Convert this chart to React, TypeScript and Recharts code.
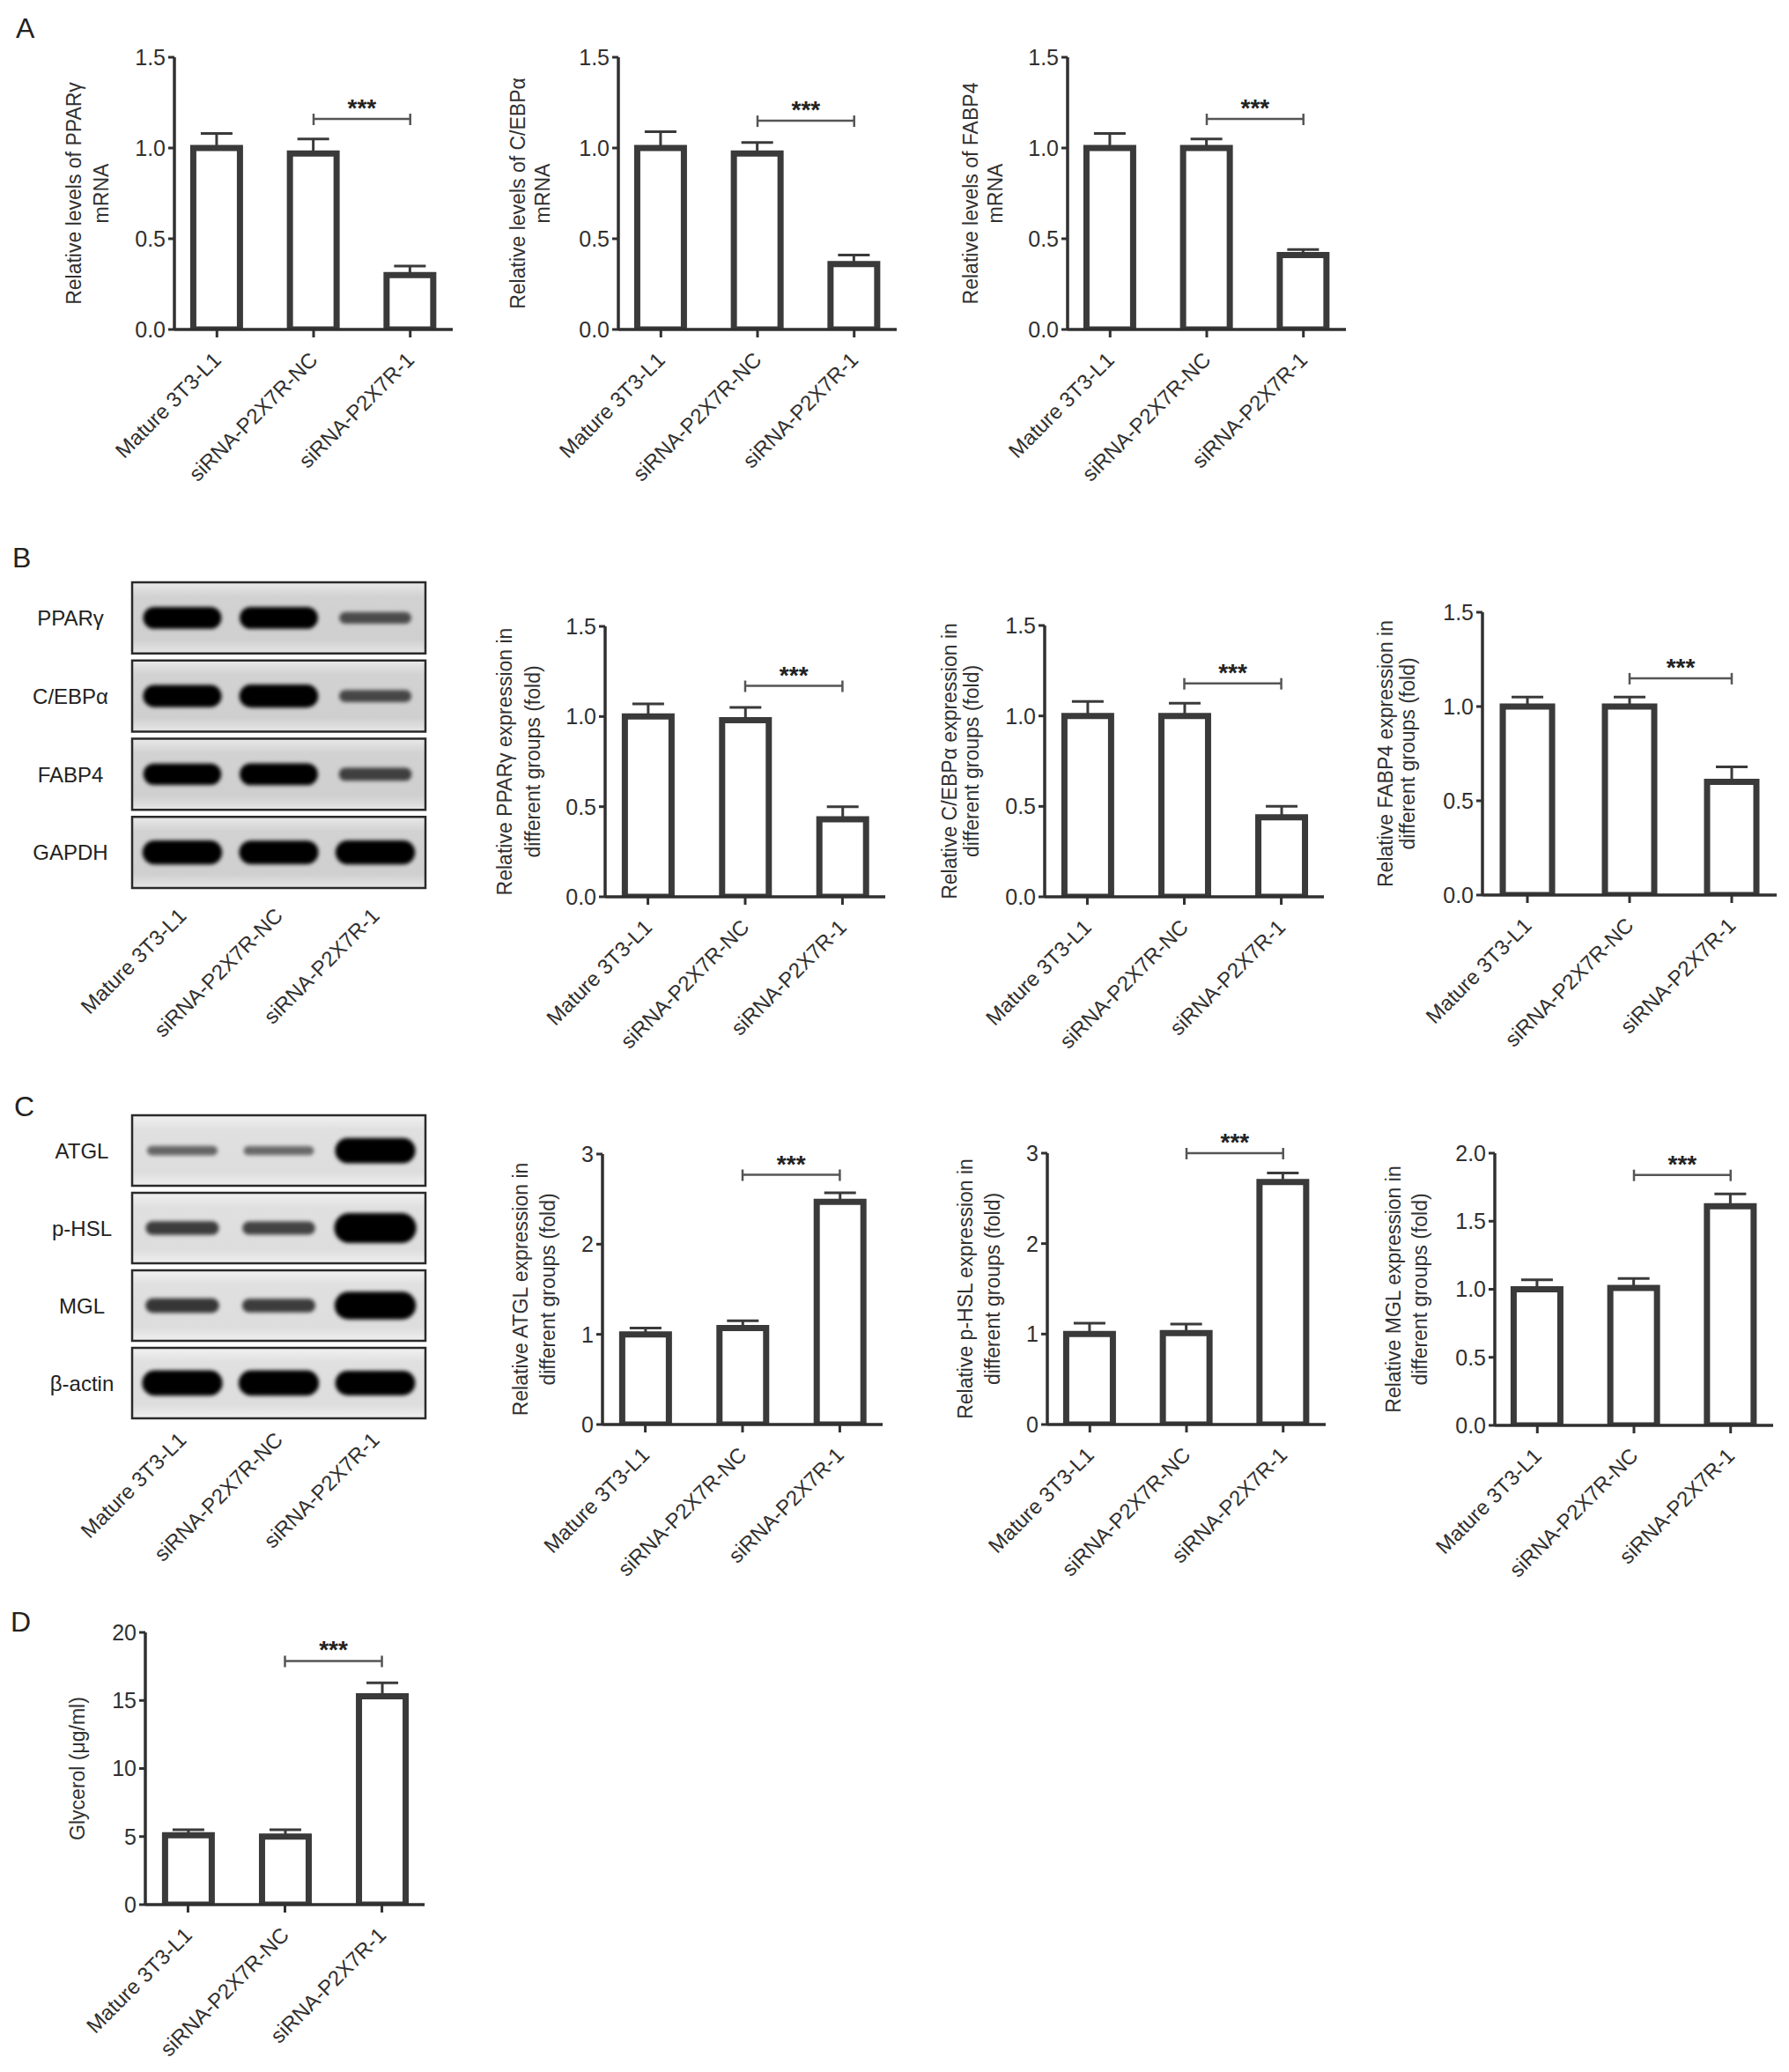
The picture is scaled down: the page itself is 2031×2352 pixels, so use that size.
import React from 'react';
import {
  BarChart,
  Bar,
  XAxis,
  YAxis,
  ErrorBar,
  ReferenceLine,
  ReferenceArea,
  ScatterChart,
  Scatter,
} from 'recharts';

const FONT = '"Liberation Sans", Arial, Helvetica, sans-serif';
const INK = '#303030';
const BAR_INK = '#3a3a3a';

// ---------- data ----------
const groups = ['Mature 3T3-L1', 'siRNA-P2X7R-NC', 'siRNA-P2X7R-1'];
const groupIdx = [0, 1, 2];

// Panel A (mRNA)
const pparMrnaMean = [1.0, 0.97, 0.3];
const pparMrnaSem = [0.08, 0.08, 0.05];
const cebpMrnaMean = [1.0, 0.97, 0.36];
const cebpMrnaSem = [0.09, 0.06, 0.05];
const fabpMrnaMean = [1.0, 1.0, 0.41];
const fabpMrnaSem = [0.08, 0.05, 0.03];

// Panel B (protein)
const pparProtMean = [1.0, 0.98, 0.43];
const pparProtSem = [0.07, 0.07, 0.07];
const cebpProtMean = [1.0, 1.0, 0.44];
const cebpProtSem = [0.08, 0.07, 0.06];
const fabpProtMean = [1.0, 1.0, 0.6];
const fabpProtSem = [0.05, 0.05, 0.08];

// Panel C (lipolysis proteins)
const atglMean = [1.0, 1.07, 2.47];
const atglSem = [0.07, 0.08, 0.1];
const phslMean = [1.0, 1.01, 2.68];
const phslSem = [0.12, 0.1, 0.1];
const mglMean = [1.0, 1.01, 1.61];
const mglSem = [0.07, 0.07, 0.09];

// Panel D (glycerol)
const glycerolMean = [5.1, 5.0, 15.3];
const glycerolSem = [0.4, 0.5, 1.0];

// significance bracket heights (data units) – siRNA-NC vs siRNA-1
const bracketLevels = [1.16, 1.15, 1.16, 1.17, 1.18, 1.15, 2.77, 3.0, 1.84, 17.9];

// tick sets
const ticks15 = [0, 0.5, 1, 1.5];
const ticks3 = [0, 1, 2, 3];
const ticks2 = [0, 0.5, 1, 1.5, 2];
const ticks20 = [0, 5, 10, 15, 20];

// western blots (relative band strength per lane)
const blotBProteins = ['PPARγ', 'C/EBPα', 'FABP4', 'GAPDH'];
const blotBBands = [
  [0.8, 0.8, 0.36],
  [0.82, 0.85, 0.38],
  [0.78, 0.8, 0.42],
  [0.9, 0.88, 0.9],
];
const blotCProteins = ['ATGL', 'p-HSL', 'MGL', 'β-actin'];
const blotCBands = [
  [0.26, 0.24, 0.95],
  [0.45, 0.42, 1.15],
  [0.48, 0.45, 1.05],
  [0.95, 0.95, 0.92],
];

// ---------- layout ----------
const ML = 150;
const MT = 70;
const MR = 24;
const XH = 230;

const CatTick = (props: any) => {
  const { x, y, payload } = props;
  return (
    <text
      x={x}
      y={y}
      dy="0.36em"
      transform={`rotate(-45 ${x} ${y})`}
      textAnchor="end"
      fontSize={24}
      fill={INK}
      fontFamily={FONT}
    >
      {groups[payload.value]}
    </text>
  );
};

const YTitle = (props: any) => {
  const { lines, offsets, axisX, cy } = props;
  return (
    <g>
      {lines.map((t: string, k: number) => {
        const tx = axisX - offsets[k];
        return (
          <text
            key={k}
            x={tx}
            y={cy}
            transform={`rotate(-90 ${tx} ${cy})`}
            textAnchor="middle"
            dominantBaseline="central"
            fontSize={23}
            fill={INK}
            fontFamily={FONT}
          >
            {t}
          </text>
        );
      })}
    </g>
  );
};

const Bracket = (p: any) => {
  const { x1, y1, x2, y2 } = p;
  const c = '#555555';
  return (
    <g>
      <line x1={x1} y1={y1} x2={x2} y2={y2} stroke={c} strokeWidth={2.5} />
      <line x1={x1} y1={y1 - 6} x2={x1} y2={y1 + 7} stroke={c} strokeWidth={2.5} />
      <line x1={x2} y1={y2 - 6} x2={x2} y2={y2 + 7} stroke={c} strokeWidth={2.5} />
      <text
        x={(x1 + x2) / 2}
        y={y1 - 3}
        textAnchor="middle"
        fontSize={28}
        fontWeight="bold"
        fill="#222"
        fontFamily={FONT}
      >
        ***
      </text>
    </g>
  );
};

type BarPanelProps = {
  rect: number[];
  means: number[];
  sems: number[];
  sig: number;
  yMax: number;
  ticks: number[];
  dec: number;
  title: string[];
  titleOff: number[];
};

function BarPanel({ rect, means, sems, sig, yMax, ticks, dec, title, titleOff }: BarPanelProps) {
  const [x0, y0, x1, y1] = rect;
  const pw = x1 - x0;
  const ph = y1 - y0;
  const W = pw + ML + MR;
  const H = ph + MT + XH;
  const data = groupIdx.map((i) => ({ x: i, v: means[i], err: [0, sems[i]] }));
  return (
    <div style={{ position: 'absolute', left: x0 - ML, top: y0 - MT, width: W, height: H }}>
      <BarChart width={W} height={H} data={data} margin={{ top: MT, right: MR, bottom: 0, left: 0 }}>
        <XAxis
          type="number"
          dataKey="x"
          domain={[-0.44, 2.44]}
          ticks={groupIdx}
          allowDataOverflow
          interval={0}
          height={XH}
          tickSize={9}
          tickMargin={21}
          axisLine={{ stroke: INK, strokeWidth: 3.5 }}
          tickLine={{ stroke: INK, strokeWidth: 3 }}
          tick={<CatTick />}
        />
        <YAxis
          type="number"
          domain={[0, yMax]}
          ticks={ticks}
          allowDataOverflow
          interval={0}
          width={ML}
          tickSize={7}
          tickMargin={3}
          tickFormatter={(v: number) => v.toFixed(dec)}
          axisLine={{ stroke: INK, strokeWidth: 3.5 }}
          tickLine={{ stroke: INK, strokeWidth: 3 }}
          tick={{ fontSize: 25, fill: INK, fontFamily: FONT }}
          label={<YTitle lines={title} offsets={titleOff} axisX={ML} cy={MT + ph / 2} />}
        />
        <Bar
          dataKey="v"
          barSize={Math.round(pw * 0.168)}
          fill="#ffffff"
          stroke={BAR_INK}
          strokeWidth={7}
          isAnimationActive={false}
        >
          <ErrorBar dataKey="err" width={18} strokeWidth={3} stroke={BAR_INK} direction="y" isAnimationActive={false} />
        </Bar>
        <ReferenceLine
          segment={[
            { x: 1, y: sig },
            { x: 2, y: sig },
          ]}
          ifOverflow="visible"
          shape={(p: any) => <Bracket {...p} />}
        />
      </BarChart>
    </div>
  );
}

const BandShape = (p: any) => {
  const { cx, cy, payload } = p;
  const level = payload.level;
  const w = 76 + 16 * Math.min(level, 1) + 8 * Math.max(level - 1, 0);
  const h = 4 + 26 * level;
  const op = Math.min(1, 0.3 + 0.95 * level);
  return (
    <rect
      x={cx - w / 2}
      y={cy - h / 2}
      width={w}
      height={h}
      rx={h / 2}
      ry={h / 2}
      fill="#050505"
      fillOpacity={op}
      filter="url(#bandBlur)"
    />
  );
};

const ProteinTick = (p: any) => {
  const { y, payload, names, labelCx } = p;
  return (
    <text x={labelCx} y={y} dy="0.36em" textAnchor="middle" fontSize={24} fill="#222" fontFamily={FONT}>
      {names[payload.value]}
    </text>
  );
};

type BlotProps = {
  rect: number[];
  proteins: string[];
  bands: number[][];
  labelX: number;
  laneOff: number;
  bg: string;
};

function BlotPanel({ rect, proteins, bands, labelX, laneOff, bg }: BlotProps) {
  const [x0, y0, x1, y1] = rect;
  const pw = x1 - x0;
  const ph = y1 - y0;
  const W = pw + ML + MR;
  const H = ph + MT + XH;
  const data = bands.flatMap((row, r) => row.map((level, l) => ({ lane: l, row: r, level })));
  const rows = proteins.map((_, r) => r);
  return (
    <div style={{ position: 'absolute', left: x0 - ML, top: y0 - MT, width: W, height: H }}>
      <ScatterChart width={W} height={H} margin={{ top: MT, right: MR, bottom: 0, left: 0 }}>
        <XAxis
          type="number"
          dataKey="lane"
          domain={[-0.52, 2.52]}
          ticks={groupIdx}
          allowDataOverflow
          interval={0}
          height={XH}
          tickSize={0}
          tickMargin={laneOff}
          axisLine={false}
          tickLine={false}
          tick={<CatTick />}
        />
        <YAxis
          type="number"
          dataKey="row"
          domain={[-0.455, 3.455]}
          reversed
          ticks={rows}
          allowDataOverflow
          interval={0}
          width={ML}
          axisLine={false}
          tickLine={false}
          tick={<ProteinTick names={proteins} labelCx={labelX - (x0 - ML)} />}
        />
        {rows.map((r) => (
          <ReferenceArea
            key={r}
            x1={-0.52}
            x2={2.52}
            y1={r - 0.455}
            y2={r + 0.455}
            fill={`url(#${bg})`}
            fillOpacity={1}
            stroke="#2a2a2a"
            strokeWidth={2.5}
            ifOverflow="visible"
          />
        ))}
        <Scatter data={data} dataKey="row" shape={<BandShape />} isAnimationActive={false} />
      </ScatterChart>
    </div>
  );
}

const yTicks15 = { yMax: 1.5, ticks: ticks15, dec: 1 };

export default function App() {
  return (
    <div
      style={{
        position: 'absolute',
        left: 0,
        top: 0,
        width: 2031,
        height: 2352,
        background: '#ffffff',
        overflow: 'hidden',
        fontFamily: FONT,
      }}
    >
      <svg width={0} height={0} style={{ position: 'absolute' }}>
        <defs>
          <filter id="bandBlur" x="-30%" y="-150%" width="160%" height="400%">
            <feGaussianBlur stdDeviation="2.2" />
          </filter>
          <linearGradient id="blotBgB" x1="0" y1="0" x2="0" y2="1">
            <stop offset="0" stopColor="#e9e9e9" />
            <stop offset="0.2" stopColor="#d2d2d2" />
            <stop offset="0.8" stopColor="#cfcfcf" />
            <stop offset="1" stopColor="#e6e6e6" />
          </linearGradient>
          <linearGradient id="blotBgC" x1="0" y1="0" x2="0" y2="1">
            <stop offset="0" stopColor="#f1f1f1" />
            <stop offset="0.2" stopColor="#e0e0e0" />
            <stop offset="0.8" stopColor="#dddddd" />
            <stop offset="1" stopColor="#efefef" />
          </linearGradient>
        </defs>
      </svg>
      <svg width={2031} height={2352} style={{ position: 'absolute', left: 0, top: 0 }}>
        <g fontFamily={FONT} fontSize={32} fill="#222">
          <text x={18} y={43}>A</text>
          <text x={14} y={644}>B</text>
          <text x={16} y={1267}>C</text>
          <text x={12} y={1852}>D</text>
        </g>
      </svg>

      {/* Panel A */}
      <BarPanel rect={[198, 65, 514, 374]} means={pparMrnaMean} sems={pparMrnaSem} sig={bracketLevels[0]} {...yTicks15}
        title={['Relative levels of PPARγ', 'mRNA']} titleOff={[114, 83]} />
      <BarPanel rect={[702, 65, 1018, 374]} means={cebpMrnaMean} sems={cebpMrnaSem} sig={bracketLevels[1]} {...yTicks15}
        title={['Relative levels of C/EBPα', 'mRNA']} titleOff={[114, 86]} />
      <BarPanel rect={[1212, 65, 1528, 374]} means={fabpMrnaMean} sems={fabpMrnaSem} sig={bracketLevels[2]} {...yTicks15}
        title={['Relative levels of FABP4', 'mRNA']} titleOff={[110, 82]} />

      {/* Panel B */}
      <BlotPanel rect={[150, 661, 483, 1008]} proteins={blotBProteins} bands={blotBBands} labelX={80} laneOff={27} bg="blotBgB" />
      <BarPanel rect={[687, 711, 1005, 1018]} means={pparProtMean} sems={pparProtSem} sig={bracketLevels[3]} {...yTicks15}
        title={['Relative PPARγ expression in', 'different groups (fold)']} titleOff={[114, 82]} />
      <BarPanel rect={[1186, 710, 1503, 1018]} means={cebpProtMean} sems={cebpProtSem} sig={bracketLevels[4]} {...yTicks15}
        title={['Relative C/EBPα expression in', 'different groups (fold)']} titleOff={[108, 83]} />
      <BarPanel rect={[1683, 695, 2017, 1016]} means={fabpProtMean} sems={fabpProtSem} sig={bracketLevels[5]} {...yTicks15}
        title={['Relative FABP4 expression in', 'different groups (fold)']} titleOff={[110, 85]} />

      {/* Panel C */}
      <BlotPanel rect={[150, 1266, 483, 1610]} proteins={blotCProteins} bands={blotCBands} labelX={93} laneOff={20} bg="blotBgC" />
      <BarPanel rect={[684, 1310, 1002, 1617]} means={atglMean} sems={atglSem} sig={bracketLevels[6]} yMax={3} ticks={ticks3} dec={0}
        title={['Relative ATGL expression in', 'different groups (fold)']} titleOff={[93, 62]} />
      <BarPanel rect={[1189, 1309, 1505, 1617]} means={phslMean} sems={phslSem} sig={bracketLevels[7]} yMax={3} ticks={ticks3} dec={0}
        title={['Relative p-HSL expression in', 'different groups (fold)']} titleOff={[93, 62]} />
      <BarPanel rect={[1697, 1309, 2013, 1618]} means={mglMean} sems={mglSem} sig={bracketLevels[8]} yMax={2} ticks={ticks2} dec={1}
        title={['Relative MGL expression in', 'different groups (fold)']} titleOff={[115, 85]} />

      {/* Panel D */}
      <BarPanel rect={[165, 1853, 482, 2162]} means={glycerolMean} sems={glycerolSem} sig={bracketLevels[9]} yMax={20} ticks={ticks20} dec={0}
        title={['Glycerol (μg/ml)']} titleOff={[77]} />
    </div>
  );
}
